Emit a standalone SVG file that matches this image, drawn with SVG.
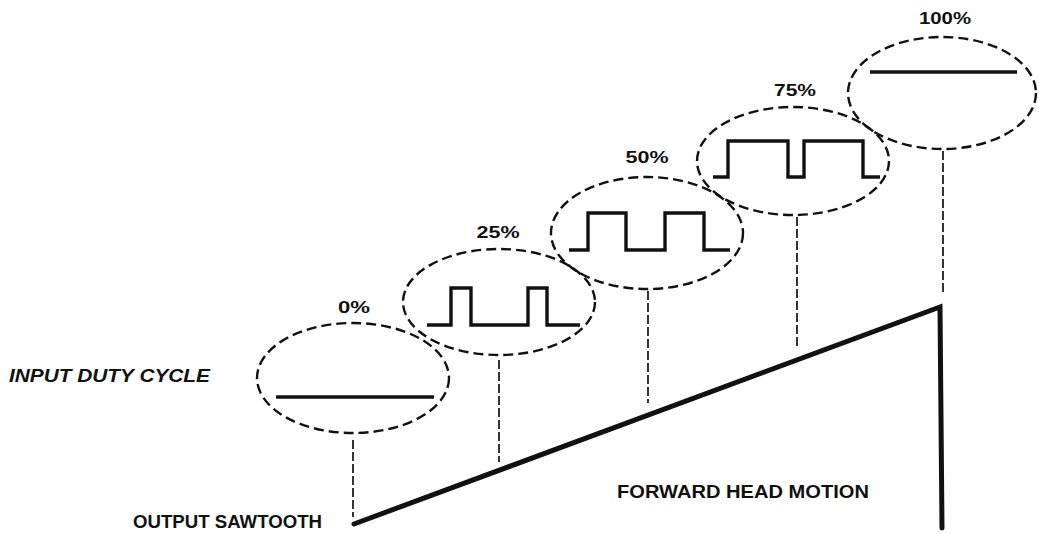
<svg xmlns="http://www.w3.org/2000/svg" width="1039" height="534" viewBox="0 0 1039 534">
<style>
.ell{fill:none;stroke:#111;stroke-width:2.4;stroke-dasharray:10 5}
.wave{fill:none;stroke:#111;stroke-width:3.4;stroke-linejoin:miter}
.drop{fill:none;stroke:#111;stroke-width:1.7;stroke-dasharray:9 3}
.saw{fill:none;stroke:#111;stroke-width:5;stroke-linejoin:miter;stroke-linecap:round}
.pct{font-family:"Liberation Sans",Arial,sans-serif;font-size:17px;font-weight:bold;fill:#111;text-anchor:middle}
.lbl{font-family:"Liberation Sans",Arial,sans-serif;font-size:19px;font-weight:bold;fill:#111}
</style>
<rect width="1039" height="534" fill="#fff"/>
<g id="duty0">
<ellipse class="ell" cx="353" cy="378" rx="96" ry="55"/>
<path class="wave" d="M276 397 H434"/>
<text class="pct" x="354" y="313" textLength="32" lengthAdjust="spacingAndGlyphs">0%</text>
</g>
<g id="duty25">
<ellipse class="ell" cx="499" cy="302" rx="96" ry="53"/>
<path class="wave" d="M427 325 H451 V288 H471 V325 H528 V288 H547 V325 H580"/>
<text class="pct" x="498" y="238" textLength="43" lengthAdjust="spacingAndGlyphs">25%</text>
</g>
<g id="duty50">
<ellipse class="ell" cx="647" cy="233" rx="96" ry="56"/>
<path class="wave" d="M569 250 H588 V213 H626 V250 H665 V213 H704 V250 H730"/>
<text class="pct" x="647" y="163" textLength="43" lengthAdjust="spacingAndGlyphs">50%</text>
</g>
<g id="duty75">
<ellipse class="ell" cx="793" cy="161" rx="96" ry="54"/>
<path class="wave" d="M713 177 H728 V141 H788 V177 H804 V141 H863 V177 H880"/>
<text class="pct" x="795" y="96" textLength="42" lengthAdjust="spacingAndGlyphs">75%</text>
</g>
<g id="duty100">
<ellipse class="ell" cx="942" cy="93" rx="94" ry="56"/>
<path class="wave" d="M870 72 H1017"/>
<text class="pct" x="945" y="24" textLength="52" lengthAdjust="spacingAndGlyphs">100%</text>
</g>
<g id="connectors">
<path class="drop" d="M353 440 V517"/>
<path class="drop" d="M499 360 V462"/>
<path class="drop" d="M648 291 V403"/>
<path class="drop" d="M797 217 V348"/>
<path class="drop" d="M943 151 V293"/>
</g>
<g id="sawtooth">
<path class="saw" d="M354 524 L940 307 L942 528"/>
</g>
<g id="labels">
<text class="lbl" x="9" y="382" font-style="italic" font-size="17" textLength="201" lengthAdjust="spacingAndGlyphs">INPUT DUTY CYCLE</text>
<text class="lbl" x="133" y="528" textLength="189" lengthAdjust="spacingAndGlyphs">OUTPUT SAWTOOTH</text>
<text class="lbl" x="617" y="498" font-weight="normal" textLength="252" lengthAdjust="spacingAndGlyphs">FORWARD HEAD MOTION</text>
</g>
</svg>
